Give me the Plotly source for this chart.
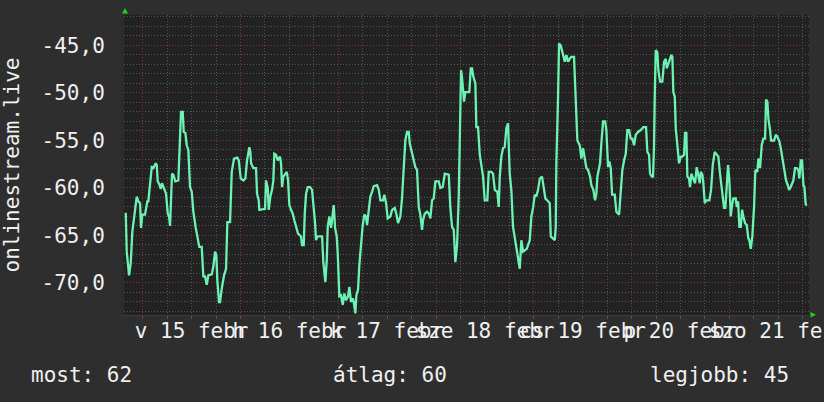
import plotly.graph_objects as go
import pandas as pd

# ---------------- data ----------------
start_day = "2015-02-15 00:00"          # hours below are counted from this moment

hours = [
    -4.17, -3.93, -3.36, -2.95, -2.55, -1.96, -1.47, -1.08, -0.66, -0.42, -0.10, 0.56, 1.13, 1.37, 1.79, 2.21,
    2.60, 3.19, 3.44, 3.68, 4.07, 4.42, 4.74, 5.06, 5.72, 6.14, 6.46, 6.70, 6.95, 7.19, 7.51, 8.00, 8.74, 9.08,
    9.40, 9.82, 10.06, 10.46, 10.80, 11.19, 11.61, 12.03, 12.42, 13.01, 13.40, 13.89, 14.48, 14.87, 15.29, 15.71,
    16.10, 16.94, 17.33, 17.75, 18.07, 18.31, 18.73, 18.98, 19.39, 19.96, 20.45, 20.77, 21.43, 21.85, 22.41, 23.22,
    23.57, 24.06, 24.70, 25.19, 25.60, 26.02, 26.17, 26.41, 26.59, 27.15, 27.81, 28.06, 28.47, 28.62, 29.46, 30.02,
    30.27, 30.69, 30.93, 31.32, 31.74, 32.06, 32.30, 32.72, 33.14, 33.70, 33.95, 34.20, 34.51, 35.01, 35.35, 35.67,
    35.99, 36.40, 36.82, 37.21, 37.63, 38.12, 38.61, 38.86, 39.10, 39.52, 39.77, 40.09, 40.50, 41.07, 41.56, 41.98,
    42.30, 42.54, 42.86, 44.02, 44.33, 44.83, 45.17, 45.41, 45.81, 46.23, 46.47, 46.89, 47.21, 47.62, 47.87, 48.26,
    48.68, 49.10, 49.49, 49.91, 50.40, 50.72, 51.13, 51.55,
    51.80, 52.19, 52.44, 52.85, 53.17, 53.59, 54.00, 54.40, 54.81, 55.06, 55.48, 55.87, 56.29, 56.71, 57.52, 57.94,
    58.33, 58.99, 59.31, 59.73, 60.14, 60.78, 61.20, 61.86, 62.25, 62.67, 63.24, 63.65, 64.07, 64.46, 64.88, 65.30,
    65.54, 66.11, 66.52, 66.91, 67.33, 67.75, 68.14, 68.56, 68.81, 69.23, 69.79, 70.36, 70.60, 71.02, 71.43, 71.83,
    72.66, 73.05, 73.64, 74.14, 75.12, 75.51, 75.93, 76.35, 76.74, 77.16, 77.57,
    78.14, 78.38, 78.87, 79.19, 80.17, 80.52, 80.84, 81.16, 81.65, 81.89, 82.31, 82.73, 83.12, 83.54, 83.95, 84.59,
    84.93, 85.57, 85.99, 86.41, 87.05, 87.39, 87.64, 88.03, 88.45, 88.86, 89.26, 89.67, 90.09, 90.48, 90.90, 91.47,
    92.13, 92.55, 92.94, 93.36, 94.27, 95.00, 95.40, 95.81, 96.23, 96.62, 97.04, 97.46, 98.02, 98.44, 98.83, 99.49,
    99.91, 100.16, 100.72, 101.14, 101.38, 101.53, 101.95, 102.19, 102.61, 103.00, 103.59, 103.99, 104.40, 104.82,
    105.21, 105.87, 106.20, 106.44, 106.69, 107.28, 107.67, 108.09,
    108.50, 108.90, 109.31, 109.80, 110.12, 110.61, 111.03, 111.35, 111.60, 112.01, 112.26, 112.58, 113.00, 113.49,
    113.81, 114.22, 114.54, 114.89, 115.21, 115.87, 116.26, 116.93, 117.34, 117.73, 118.15, 118.57, 118.96, 119.38,
    119.79, 120.19, 120.61, 121.02, 121.59, 122.25, 122.89, 123.55, 123.87, 124.29, 124.53, 124.95, 125.27, 125.51,
    125.68, 125.93, 126.32, 126.57, 126.99, 127.55, 127.97, 128.39, 128.63, 128.95, 129.44, 129.76, 130.01, 130.25,
    130.60, 130.84, 131.24, 131.65, 132.07, 132.46, 132.88, 133.12, 133.44, 133.69, 134.10, 134.35, 134.67, 135.16,
    135.58, 135.99, 136.39, 136.73, 136.98, 137.37, 137.62, 137.96, 138.28, 139.09, 139.51, 139.92, 140.41, 140.90,
    141.30, 141.71, 142.20, 142.70, 143.02, 143.36, 143.68, 144.00, 144.34, 144.66, 144.98, 145.57, 145.82, 146.14,
    146.46, 146.80, 147.12, 147.44, 147.86, 148.27, 148.66, 148.91, 149.25, 149.64, 150.06, 150.38, 150.87, 151.12,
    151.54, 151.95, 152.35, 152.77, 153.01, 153.33, 153.58, 153.99, 154.24, 154.98, 155.39, 155.78, 156.27, 156.62,
    157.11, 157.50, 157.92, 158.34, 158.65, 159.07, 159.71, 160.13, 160.54, 160.94, 161.19, 161.53, 161.85, 162.17,
    162.42, 162.76, 163.00,
]

values = [
    -62.6, -66.7, -69.2, -67.9, -64.6, -62.7, -60.9, -61.4, -61.6, -64.2, -62.8, -62.8, -61.4, -61.4, -59.3, -57.8,
    -57.9, -57.4, -57.6, -59.3, -59.6, -60.1, -59.5, -59.9, -60.6, -62.7, -63.0, -64.0, -60.7, -58.5, -58.6, -59.3,
    -59.2, -54.8, -52.0, -52.0, -54.1, -54.2, -55.5, -56.0, -59.9, -60.4, -62.5, -64.2, -65.0, -66.2, -66.2, -69.3,
    -69.3, -70.2, -69.2, -69.1, -68.3, -66.7, -67.1, -69.7, -72.0, -72.0, -70.6, -69.2, -68.5, -63.6, -63.6, -58.3,
    -56.9, -56.8,
    -57.1, -59.0, -59.2, -59.0, -57.1, -56.2, -55.7, -56.2, -57.4, -57.9, -57.9, -60.6, -61.3, -62.3, -62.2, -62.2,
    -59.2, -60.0, -62.3, -60.9, -60.2, -59.2, -56.4, -56.5, -57.1, -56.7, -57.4, -59.9, -58.8, -58.5, -58.3, -59.2,
    -61.8, -62.3, -62.7, -63.4, -64.1, -64.8, -65.0, -65.1, -66.0, -66.0, -62.7, -60.6, -59.9, -59.9, -60.2, -62.0,
    -63.7, -65.5, -65.1, -65.1, -67.8, -69.9, -67.6, -64.1, -63.0, -64.2, -63.2, -61.8, -64.2, -65.1, -66.9, -71.4,
    -71.3, -72.3, -71.1, -71.8, -71.4, -70.4, -72.0, -71.6,
    -72.0, -73.2, -71.3, -70.7, -68.1, -65.8, -63.9, -62.8, -63.0, -63.9, -62.1, -60.9, -60.4, -59.8, -59.7, -60.2,
    -61.3, -61.3, -60.7, -61.6, -63.2, -63.0, -62.3, -62.1, -62.7, -63.7, -63.0, -61.1, -57.9, -55.0, -54.1, -54.1,
    -55.3, -56.4, -57.2, -57.8, -58.1, -62.0, -62.8, -64.4, -63.4, -62.7, -62.5, -62.8, -63.2, -61.3, -61.1, -59.3,
    -59.3, -60.0, -59.9, -58.5, -58.6, -62.1, -64.1, -64.4, -67.8, -66.0, -60.9,
    -47.6, -48.4, -50.9, -49.9, -49.9, -47.4, -47.4, -48.3, -49.0, -53.6, -53.6, -56.5, -57.6, -58.8, -61.3, -61.3,
    -58.3, -58.3, -58.5, -60.2, -60.4, -62.0, -58.8, -56.7, -55.8, -55.7, -53.7, -53.2, -58.5, -60.2, -64.1, -65.8,
    -67.6, -68.5, -65.5, -66.7, -66.4, -65.5, -63.0, -62.1, -60.7, -60.9, -60.2, -59.0, -58.8, -60.2, -61.1, -61.4,
    -61.6, -65.1, -65.3, -65.5, -64.1, -57.4, -50.4, -44.8, -45.0, -45.7, -46.7, -46.0, -46.7, -46.4, -46.2, -46.2,
    -50.4, -52.5, -55.0, -55.5, -56.9, -55.8,
    -56.7, -57.9, -58.1, -58.8, -59.7, -60.2, -61.3, -60.6, -58.8, -57.8, -57.4, -55.3, -53.0, -53.0, -53.9, -57.8,
    -57.2, -57.9, -60.7, -60.7, -62.5, -62.8, -60.2, -58.1, -57.1, -56.4, -53.9, -53.9, -54.8, -54.8, -55.5, -54.4,
    -54.1, -53.9, -53.6, -53.6, -56.2, -56.5, -58.5, -58.8, -58.8, -55.5, -50.4, -45.5, -45.7, -47.6, -48.8, -48.8,
    -46.7, -46.4, -47.4, -46.9, -46.4, -46.0, -46.2, -49.9, -50.4, -53.7, -55.7, -57.4, -56.7, -56.7, -56.5, -54.2,
    -54.2, -58.8, -59.0, -59.9, -58.5, -59.0, -59.5, -57.8, -58.8, -59.5, -58.3, -58.6, -59.5, -61.6, -61.3, -61.3,
    -60.2, -57.6, -56.2, -56.5, -56.7, -58.5, -60.2, -62.1, -62.1, -60.2, -57.6, -59.2, -63.0, -61.8, -61.1, -61.1,
    -62.0, -61.4, -64.1, -64.1, -62.3, -63.0, -63.7, -63.9, -65.3, -65.5, -66.4, -65.1, -62.0, -58.1, -58.3, -56.9,
    -57.9, -55.5, -54.8, -54.8, -50.7, -50.9, -52.7, -53.9, -55.0, -55.0, -54.4, -54.6, -55.1, -55.8, -57.1, -58.1,
    -59.2, -59.7, -60.2, -59.9, -59.2, -57.9, -57.9, -58.1, -59.0, -57.1, -57.1, -59.7, -59.9, -61.8, -61.7,
]

day_tick_hours = [12, 36, 60, 84, 108, 132, 156]
day_tick_labels = ["v 15 febr", "h 16 febr", "k 17 febr", "sze 18 febr",
                   "cs 19 febr", "p 20 febr", "szo 21 febr"]
y_tick_values = [-70, -65, -60, -55, -50, -45]
y_tick_labels = ["-70,0", "-65,0", "-60,0", "-55,0", "-50,0", "-45,0"]
x_range_hours = [-4.6, 163.55]
y_range = [-73.37, -41.79]
y_title = "onlinestream.live"
stat_current, stat_average, stat_best = 62, 60, 45

assert len(hours) == len(values), (len(hours), len(values))

# ---------------- build ----------------
t0 = pd.Timestamp(start_day)
def ts(h):
    return (t0 + pd.Timedelta(hours=h)).strftime("%Y-%m-%d %H:%M:%S")

times = [ts(h) for h in hours]
x_range = [ts(h) for h in x_range_hours]
tick_times = [ts(h) for h in day_tick_hours]

FONT = "DejaVu Sans Mono"
TXT = "#f0f0f0"
FS = 21
PAPER = "#2e2e2e"
MINOR_GRID = "#555555"
MAJOR_GRID = "#7e3636"
DOT = "1px,2px"

fig = go.Figure()
fig.add_trace(go.Scatter(
    x=times, y=values, mode="lines",
    line=dict(color="#6cf2b2", width=2.3),
    hoverinfo="skip", showlegend=False,
))
# invisible helper trace so the label axis (x2) has a subplot
fig.add_trace(go.Scatter(
    x=[times[0]], y=[values[0]], xaxis="x2", mode="markers",
    marker=dict(opacity=0), hoverinfo="skip", showlegend=False,
))

fig.update_layout(
    width=824, height=402,
    margin=dict(l=124, r=15, t=15, b=87, pad=0),
    paper_bgcolor=PAPER,
    plot_bgcolor="#222222",
    font=dict(family=FONT, size=FS, color=TXT),
    xaxis=dict(
        type="date", range=x_range, tick0=start_day, dtick=86400000,
        showticklabels=False, ticks="outside", ticklen=3, tickcolor="#8a3c3c",
        showgrid=True, gridcolor=MAJOR_GRID, griddash=DOT, gridwidth=1,
        zeroline=False, showline=True, linecolor="#3a3a3a", linewidth=1,
        minor=dict(tickmode="linear", tick0=start_day, dtick=21600000,
                   showgrid=True, gridcolor=MINOR_GRID, griddash=DOT,
                   ticks="outside", ticklen=3, tickcolor=MINOR_GRID),
        automargin=False, fixedrange=True,
    ),
    xaxis2=dict(
        type="date", overlaying="x", anchor="y", side="bottom", range=x_range,
        tickmode="array", tickvals=tick_times, ticktext=day_tick_labels,
        tickangle=0, showgrid=False, zeroline=False, showline=False, ticks="",
        tickfont=dict(family=FONT, size=FS, color=TXT),
        ticklabelstandoff=1, ticklabeloverflow="allow",
        automargin=False, fixedrange=True,
    ),
    yaxis=dict(
        range=y_range, tickmode="array", tickvals=y_tick_values, ticktext=y_tick_labels,
        tickfont=dict(family=FONT, size=FS, color=TXT),
        showgrid=True, gridcolor=MAJOR_GRID, griddash=DOT, gridwidth=1,
        zeroline=False, ticks="", showline=True, linecolor="#2c2c2c", linewidth=3,
        minor=dict(tickmode="linear", tick0=0, dtick=1, showgrid=True,
                   gridcolor=MINOR_GRID, griddash=DOT),
        title=dict(text=y_title, font=dict(family=FONT, size=FS, color=TXT), standoff=20),
        ticklabelstandoff=12,
        automargin=False, fixedrange=True,
    ),
    annotations=[
        dict(text=f"most: {stat_current}", xref="paper", yref="paper",
             x=-0.1385, y=-0.2, xanchor="left", yanchor="middle", showarrow=False,
             font=dict(family=FONT, size=FS, color=TXT)),
        dict(text=f"átlag: {stat_average}", xref="paper", yref="paper",
             x=0.389, y=-0.2, xanchor="center", yanchor="middle", showarrow=False,
             font=dict(family=FONT, size=FS, color=TXT)),
        dict(text=f"legjobb: {stat_best}", xref="paper", yref="paper",
             x=0.9737, y=-0.2, xanchor="right", yanchor="middle", showarrow=False,
             font=dict(family=FONT, size=FS, color=TXT)),
    ],
    shapes=[
        # axis arrow heads
        dict(type="path", xref="paper", yref="paper", xsizemode="pixel", ysizemode="pixel",
             xanchor=0, yanchor=1, path="M -2,1.5 L 4,1.5 L 1,7 Z",
             fillcolor="#20d020", line=dict(width=0), layer="above"),
        dict(type="path", xref="paper", yref="paper", xsizemode="pixel", ysizemode="pixel",
             xanchor=1, yanchor=0, path="M 1.5,3 L 1.5,-2.5 L 7,0.3 Z",
             fillcolor="#20d020", line=dict(width=0), layer="above"),
    ],
)

fig.write_html(
    "out.html",
    config={"displayModeBar": False, "staticPlot": True},
    post_script=(
        "document.documentElement.style.margin='0';"
        "document.body.style.margin='0';"
        "document.body.style.background='%s';"
        "document.body.style.overflow='hidden';" % PAPER
    ),
)
